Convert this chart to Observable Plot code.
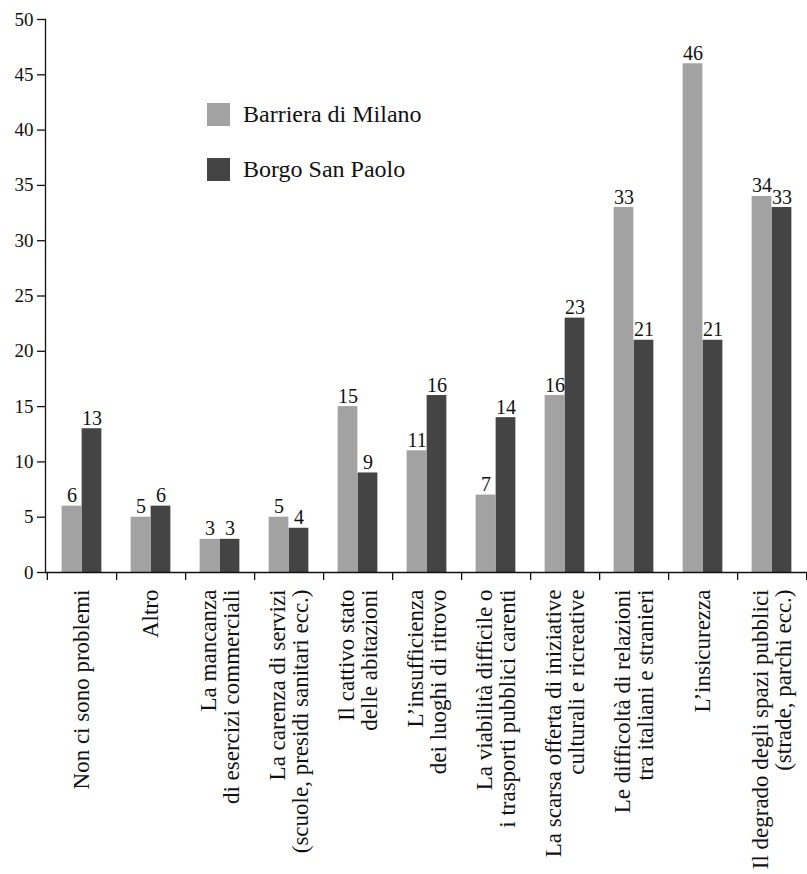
<!DOCTYPE html>
<html>
<head>
<meta charset="utf-8">
<script src="https://cdn.jsdelivr.net/npm/d3@7"></script>
<script src="https://cdn.jsdelivr.net/npm/@observablehq/plot@0.6"></script>
<style>
  html, body { margin: 0; padding: 0; background: #fff; }
  #wrap { position: relative; width: 807px; height: 874px; font-family: "Liberation Serif", serif; }
  #chart svg, #chart svg text { font-family: "Liberation Serif", serif !important; }
  #legend { position: absolute; left: 207px; top: 102px; font-size: 24px; color: #111; }
  .row { display: flex; align-items: center; height: 25px; margin-bottom: 30px; }
  .sw { width: 23px; height: 23px; margin-right: 13px; }
</style>
</head>
<body>
<div id="wrap"><div id="chart"></div><div id="legend"></div></div>
<script>
const categories = [
  "Non ci sono problemi",
  "Altro",
  "La mancanza\ndi esercizi commerciali",
  "La carenza di servizi\n(scuole, presidi sanitari ecc.)",
  "Il cattivo stato\ndelle abitazioni",
  "L’insufficienza\ndei luoghi di ritrovo",
  "La viabilità difficile o\ni trasporti pubblici carenti",
  "La scarsa offerta di iniziative\nculturali e ricreative",
  "Le difficoltà di relazioni\ntra italiani e stranieri",
  "L’insicurezza",
  "Il degrado degli spazi pubblici\n(strade, parchi ecc.)"
];
const seriesNames = ["Barriera di Milano", "Borgo San Paolo"];
const barriera = [6, 5, 3, 5, 15, 11, 7, 16, 33, 46, 34];
const borgo = [13, 6, 3, 4, 9, 16, 14, 23, 21, 21, 33];
const colors = ["#a2a2a2", "#444444"];
const yTicks = [0, 5, 10, 15, 20, 25, 30, 35, 40, 45, 50];

const W = 807, H = 874, ML = 45, MR = 0, MT = 19, MB = 302;
const bw = (W - ML - MR) / categories.length;
const barW = 20;
const FF = "Liberation Serif";

const data = [];
categories.forEach((c, i) => {
  data.push({cat: c, series: seriesNames[0], value: barriera[i]});
  data.push({cat: c, series: seriesNames[1], value: borgo[i]});
});
const dA = data.filter(d => d.series === seriesNames[0]);
const dB = data.filter(d => d.series === seriesNames[1]);

const chart = Plot.plot({
  width: W, height: H,
  marginLeft: ML, marginRight: MR, marginTop: MT, marginBottom: MB,
  style: {fontFamily: FF, background: "#fff", color: "#111"},
  x: {type: "band", domain: categories, padding: 0, axis: null},
  y: {domain: [0, 50], axis: null},
  color: {domain: seriesNames, range: colors},
  marks: [
    Plot.barY(dA, {x: "cat", y: "value", fill: "series", insetLeft: bw/2 - barW, insetRight: bw/2}),
    Plot.barY(dB, {x: "cat", y: "value", fill: "series", insetLeft: bw/2, insetRight: bw/2 - barW}),
    Plot.text(dA, {x: "cat", y: "value", text: d => String(d.value), dx: -barW/2, dy: -4, lineAnchor: "bottom", fontSize: 20, fontFamily: FF, fill: "#111"}),
    Plot.text(dB, {x: "cat", y: "value", text: d => String(d.value), dx: barW/2, dy: -4, lineAnchor: "bottom", fontSize: 20, fontFamily: FF, fill: "#111"}),
    Plot.ruleY([0], {stroke: "#111", strokeWidth: 1.3}),
    Plot.frame({anchor: "left", stroke: "#111", strokeWidth: 1.3}),
    Plot.axisY({ticks: yTicks, tickSize: 8, tickPadding: 4, fontSize: 19, fontFamily: FF, label: null, stroke: "#111", strokeWidth: 1.3, fill: "#111"}),
    Plot.axisX({tickSize: 8, tickFormat: () => "", dx: bw/2, label: null, stroke: "#111", strokeWidth: 1.3}),
    Plot.axisX({ticks: [categories[0]], tickSize: 8, tickFormat: () => "", dx: -bw/2, label: null, stroke: "#111", strokeWidth: 1.3}),
    Plot.text(categories, {x: d => d, frameAnchor: "bottom", dy: 17, rotate: -90, textAnchor: "end", lineAnchor: "middle", lineHeight: 1.0, fontSize: 23, fontFamily: FF, fill: "#111", text: d => d})
  ]
});
document.getElementById("chart").appendChild(chart);

const legend = document.getElementById("legend");
seriesNames.forEach((s, i) => {
  const row = document.createElement("div");
  row.className = "row";
  row.innerHTML = `<div class="sw" style="background:${colors[i]}"></div><span>${s}</span>`;
  legend.appendChild(row);
});
</script>
</body>
</html>
